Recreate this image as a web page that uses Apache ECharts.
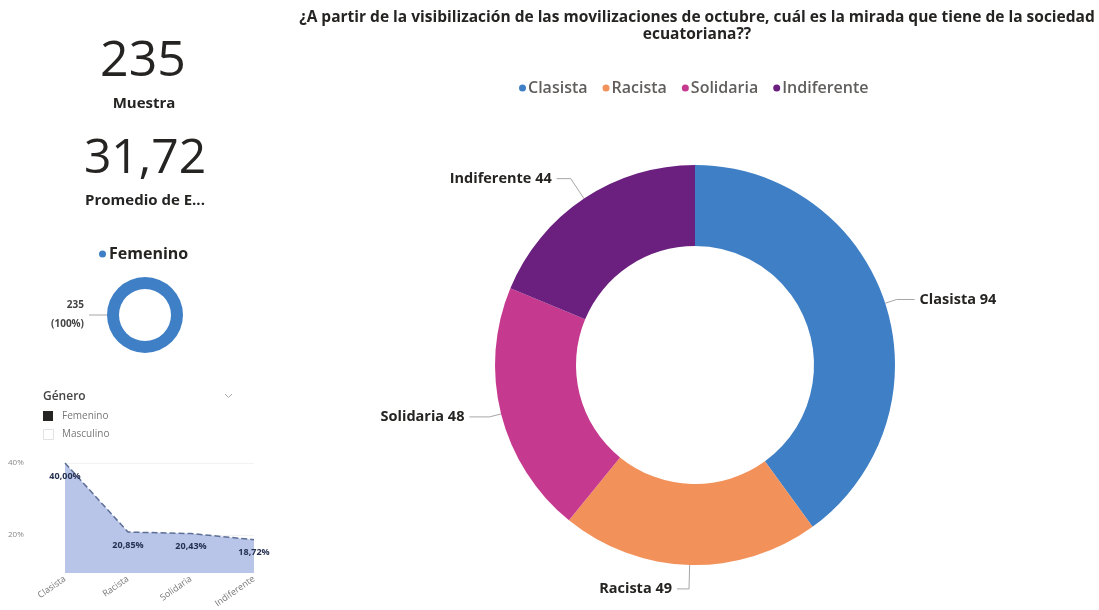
<!DOCTYPE html>
<html>
<head>
<meta charset="utf-8">
<style>
  html, body { margin: 0; padding: 0; background: #ffffff; }
  #main { width: 1099px; height: 610px; }
</style>
<script src="https://cdn.jsdelivr.net/npm/echarts@6/dist/echarts.min.js"></script>
</head>
<body>
<div id="main"></div>
<script>
// Survey answers: how respondents see Ecuadorian society after the October mobilisations
const categories = ['Clasista', 'Racista', 'Solidaria', 'Indiferente'];
const counts = [94, 49, 48, 44];
const percentages = [40.00, 20.85, 20.43, 18.72];
const categoryColors = ['#3F7FC6', '#F2915A', '#C5398F', '#6B1F7F'];

// Respondents by gender
const genderNames = ['Femenino'];
const genderCounts = [235];
const slicerItems = ['Femenino', 'Masculino'];

// Headline cards
const sampleSize = 235;
const averageAge = 31.72;

// Percent axis labels of the small area chart
const pctTicks = [20, 40];

const FONT = '"Open Sans", "Noto Sans", sans-serif';
const fmtComma = (v, d) => v.toFixed(d).replace('.', ',');

// Longer leader lines for the slices whose labels sit further out
const leaderLength = {
  Racista: { length: 24, length2: 12 },
  Solidaria: { length: 12, length2: 20 },
  Indiferente: { length: 24, length2: 14 }
};

const chart = echarts.init(document.getElementById('main'));

const option = {
  backgroundColor: '#ffffff',
  animation: false,
  textStyle: { fontFamily: FONT },
  color: categoryColors,
  legend: [
    {
      data: categories,
      left: 514,
      top: 75,
      icon: 'circle',
      itemWidth: 7,
      itemHeight: 7,
      itemGap: 15,
      textStyle: { fontSize: 16, fontWeight: 600, color: '#605E5C', fontFamily: FONT, padding: [0, 0, 0, -3] }
    },
    {
      data: genderNames,
      left: 94,
      top: 241,
      icon: 'circle',
      itemWidth: 7,
      itemHeight: 7,
      itemGap: 4,
      textStyle: { fontSize: 16, fontWeight: 'bold', color: '#252423', fontFamily: FONT, padding: [0, 0, 0, -2] }
    }
  ],
  grid: { left: 65, right: 845, top: 463, bottom: 37, containLabel: false },
  xAxis: {
    type: 'category',
    data: categories,
    boundaryGap: false,
    axisLine: { show: false },
    axisTick: { show: false },
    axisLabel: { rotate: 35, fontSize: 9, color: '#777777', margin: 5, fontFamily: FONT }
  },
  yAxis: {
    type: 'value',
    min: 9.5,
    max: 40,
    axisLine: { show: false },
    axisTick: { show: false, customValues: pctTicks },
    axisLabel: {
      customValues: pctTicks,
      fontSize: 8,
      color: '#888888',
      margin: 57,
      align: 'left',
      formatter: v => v + '%'
    },
    splitLine: { show: true, lineStyle: { color: '#F3F3F3', width: 1 } }
  },
  series: [
    {
      name: 'Mirada',
      type: 'pie',
      center: [695, 365],
      radius: [119, 200],
      startAngle: 90,
      avoidLabelOverlap: true,
      data: categories.map((c, i) => ({
        name: c,
        value: counts[i],
        labelLine: leaderLength[c]
      })),
      itemStyle: { borderWidth: 0 },
      label: {
        show: true,
        position: 'outside',
        formatter: '{b} {c}',
        fontSize: 14.5,
        fontWeight: 'bold',
        color: '#252423',
        fontFamily: FONT
      },
      labelLine: { show: true, length: 12, length2: 18, lineStyle: { color: '#A6A6A6', width: 1 } }
    },
    {
      name: 'Género',
      type: 'pie',
      center: [145, 315],
      radius: [26, 38],
      startAngle: 0,
      data: genderNames.map((g, i) => ({ name: g, value: genderCounts[i], itemStyle: { color: '#3F7FC6' } })),
      label: {
        show: true,
        position: 'outside',
        formatter: '{c}\n({d}%)',
        fontSize: 10,
        fontWeight: 'bold',
        lineHeight: 19,
        color: '#444444',
        align: 'right',
        fontFamily: FONT
      },
      labelLine: { show: true, length: 4, length2: 14, lineStyle: { color: '#A6A6A6', width: 1 } }
    },
    {
      name: 'Porcentaje',
      type: 'line',
      data: percentages,
      symbol: 'circle',
      symbolSize: 1,
      itemStyle: { color: 'rgba(0,0,0,0)' },
      lineStyle: { type: 'dashed', color: '#5D6F96', width: 1.5 },
      areaStyle: { color: '#B8C4E8', opacity: 1, origin: 'start' },
      label: {
        show: true,
        position: 'bottom',
        distance: 8,
        fontSize: 9,
        fontWeight: 'bold',
        color: '#253050',
        fontFamily: FONT,
        formatter: p => fmtComma(p.value, 2) + '%'
      }
    }
  ],
  graphic: [
    {
      type: 'text', x: 697, y: 9,
      style: {
        text: '¿A partir de la visibilización de las movilizaciones de octubre, cuál es la mirada que tiene de la sociedad\necuatoriana??',
        align: 'center',
        fontSize: 15.5, fontWeight: 'bold', lineHeight: 17, fill: '#252423', fontFamily: FONT
      }
    },
    {
      type: 'text', x: 143, y: 62,
      style: { text: String(sampleSize), align: 'center', verticalAlign: 'middle', fontSize: 50, fill: '#252423', fontFamily: FONT }
    },
    {
      type: 'text', x: 144, y: 104,
      style: { text: 'Muestra', align: 'center', verticalAlign: 'middle', fontSize: 15, fontWeight: 'bold', fill: '#252423', fontFamily: FONT }
    },
    {
      type: 'text', x: 145, y: 159,
      style: { text: fmtComma(averageAge, 2), align: 'center', verticalAlign: 'middle', fontSize: 48, fill: '#252423', fontFamily: FONT }
    },
    {
      type: 'text', x: 145, y: 201,
      style: { text: 'Promedio de E...', align: 'center', verticalAlign: 'middle', fontSize: 15, fontWeight: 'bold', fill: '#252423', fontFamily: FONT }
    },
    {
      type: 'text', x: 43, y: 397,
      style: { text: 'Género', verticalAlign: 'middle', fontSize: 12, fontWeight: 600, fill: '#444444', fontFamily: FONT }
    },
    {
      type: 'polyline',
      shape: { points: [[225, 394], [228.5, 397.5], [232, 394]] },
      style: { stroke: '#AAAAAA', lineWidth: 1, fill: null }
    },
    {
      type: 'rect', shape: { x: 43, y: 411, width: 10, height: 10 },
      style: { fill: '#252423' }
    },
    {
      type: 'text', x: 62, y: 416,
      style: { text: slicerItems[0], verticalAlign: 'middle', fontSize: 10, fill: '#777777', fontFamily: FONT }
    },
    {
      type: 'rect', shape: { x: 43.5, y: 429.5, width: 10, height: 10 },
      style: { fill: '#ffffff', stroke: '#E2E2E2', lineWidth: 1 }
    },
    {
      type: 'text', x: 62, y: 434,
      style: { text: slicerItems[1], verticalAlign: 'middle', fontSize: 10, fill: '#777777', fontFamily: FONT }
    }
  ]
};

chart.setOption(option);
</script>
</body>
</html>
